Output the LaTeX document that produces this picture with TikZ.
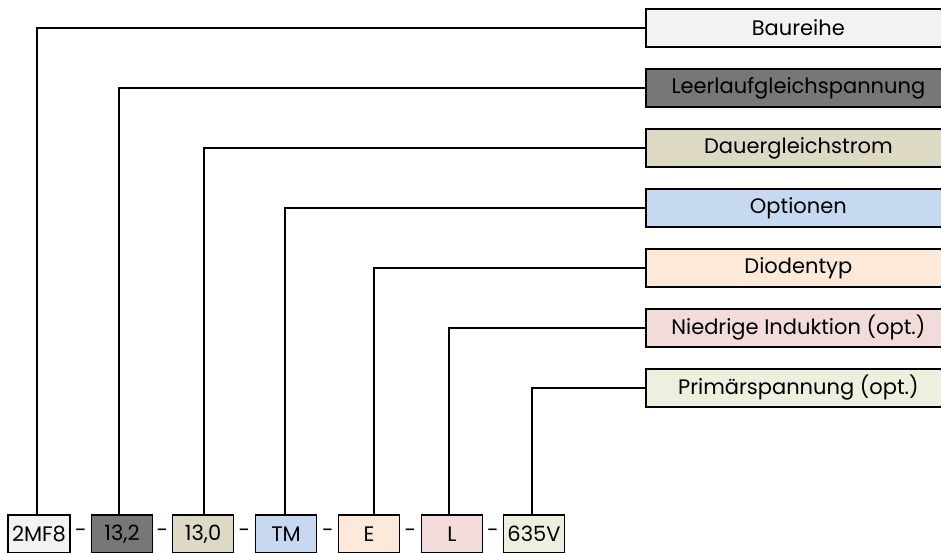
\documentclass[tikz,border=0pt]{standalone}
\usepackage{fontspec}
\setmainfont{Poppins}
\definecolor{cBau}{HTML}{F2F2F2}
\definecolor{cLeer}{HTML}{777777}
\definecolor{cDau}{HTML}{DDD9C4}
\definecolor{cOpt}{HTML}{C6D9F1}
\definecolor{cDio}{HTML}{FDE9D9}
\definecolor{cNie}{HTML}{F2DCDB}
\definecolor{cPri}{HTML}{EBF1DE}
\tikzset{
  lbl/.style={draw=black, line width=1.7pt, minimum width=305pt, minimum height=38pt, anchor=west, inner sep=0pt, font=\fontsize{21}{24}\selectfont},
  code/.style={draw=black, line width=1.7pt, minimum width=61pt, minimum height=38pt, anchor=north, inner sep=0pt, font=\fontsize{21}{24}\selectfont},
  sep/.style={inner sep=0pt, font=\fontsize{21}{24}\selectfont},
  conn/.style={line width=1.8pt, black},
}
\begin{document}
\begin{tikzpicture}[x=1pt, y=-1pt]
\useasboundingbox (0,0) rectangle (941,552);
\clip (0,0) rectangle (941,552);
% right labels
\node[lbl, fill=cBau] (r1) at (645,28) {Baureihe};
\node[lbl, fill=cLeer] (r2) at (645,88) {Leerlaufgleichspannung};
\node[lbl, fill=cDau] (r3) at (645,148) {Dauergleichstrom};
\node[lbl, fill=cOpt] (r4) at (645,208) {Optionen};
\node[lbl, fill=cDio] (r5) at (645,268) {Diodentyp};
\node[lbl, fill=cNie] (r6) at (645,328) {Niedrige Induktion (opt.)};
\node[lbl, fill=cPri] (r7) at (645,388) {Primärspannung (opt.)};
% code boxes
\node[code, fill=cBau, minimum width=62pt] (b1) at (39,514) {2MF8};
\node[code, fill=cLeer] (b2) at (122,514) {13,2};
\node[code, fill=cDau] (b3) at (203,514) {13,0};
\node[code, fill=cOpt] (b4) at (286,514) {TM};
\node[code, fill=cDio] (b5) at (369,514) {E};
\node[code, fill=cNie] (b6) at (452,514) {L};
\node[code, fill=cPri] (b7) at (534,514) {635V};
% separators
\node[sep] (d1) at (81,533) {-};
\node[sep] (d2) at (162.5,533) {-};
\node[sep] (d3) at (244.5,533) {-};
\node[sep] (d4) at (328,533) {-};
\node[sep] (d5) at (410.5,533) {-};
\node[sep] (d6) at (493,533) {-};
% connectors
\draw[conn] ([xshift=-2pt]b1.north) |- (r1.west);
\draw[conn] ([xshift=-3pt]b2.north) |- (r2.west);
\draw[conn] ([xshift=1pt]b3.north) |- (r3.west);
\draw[conn] ([xshift=-1pt]b4.north) |- (r4.west);
\draw[conn] ([xshift=5pt]b5.north) |- (r5.west);
\draw[conn] ([xshift=-3pt]b6.north) |- (r6.west);
\draw[conn] ([xshift=-2pt]b7.north) |- (r7.west);
\end{tikzpicture}
\end{document}
